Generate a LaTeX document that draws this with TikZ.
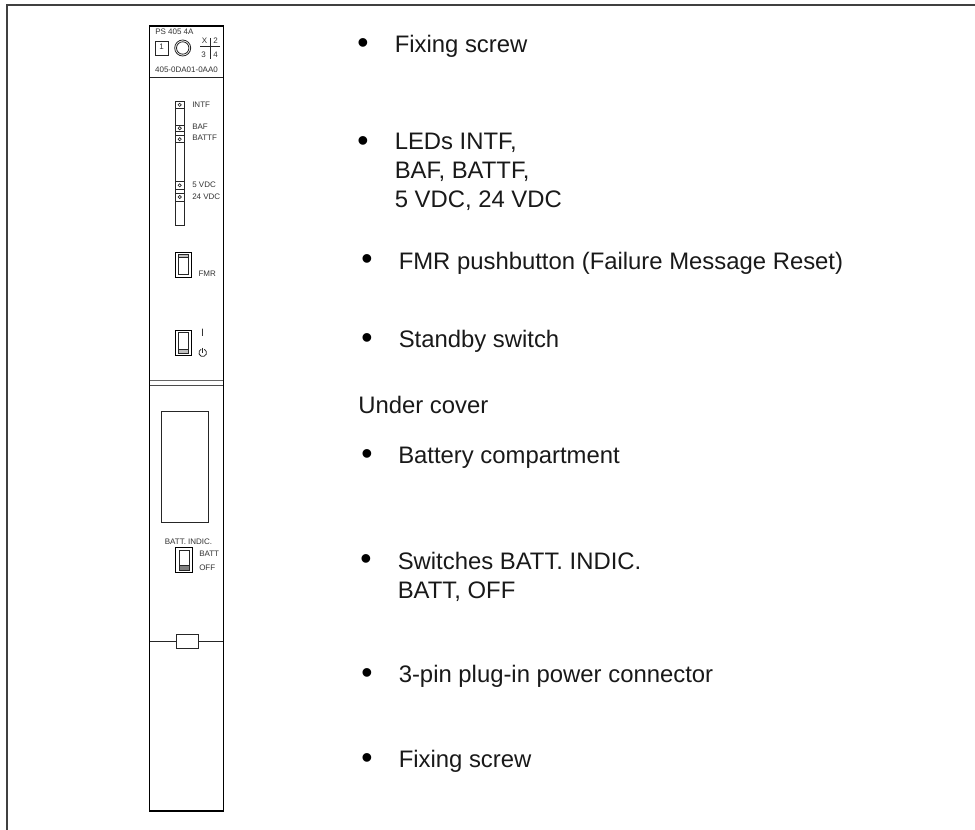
\documentclass[tikz,border=0pt]{standalone}
\usepackage{fontspec}
\setmainfont{Liberation Sans}
\usetikzlibrary{calc}

\tikzset{
  itemtext/.style={anchor=base west, inner sep=0pt, text=black!90, font=\fontsize{17.9}{20}\selectfont},
  dotmark/.style={anchor=base, inner sep=0pt, font=\fontsize{24}{26}\selectfont},
  tinytext/.style={anchor=base west, inner sep=0pt, text=black!80, font=\fontsize{6}{7}\selectfont},
  partline/.style={black!85, line width=0.6pt},
  frameline/.style={black!75, line width=0.9pt}
}

\begin{document}
\begin{tikzpicture}[x=0.75pt, y=-0.75pt]

\useasboundingbox (0,0) rectangle (975,830);

%-- page frame
\coordinate (Fa) at (7, 830);
\coordinate (Fb) at (7, 5);
\coordinate (Fc) at (975, 5);
\draw[frameline] (Fa)--(Fb)--(Fc);

%-- module outline
\draw[black, line width=0.8pt] (149.5,26) rectangle (223.3,811);
\draw[partline] (149.5,77) -- (223.3,77);

%-- head of the module
\node[tinytext] (typename) at (155,34.5) {PS 405 4A};
\draw[partline] (155,41) rectangle (168,55);
\node[tinytext, anchor=base] (slotno) at (161.5,49.5) {1};
\draw[partline] (182.7,48) circle (8);
\draw[partline] (182.7,48) circle (6.2);
\draw[partline] (210,38) -- (210,59);
\draw[partline] (200,46) -- (220,46);
\node[tinytext, anchor=base] (keyx) at (204.5,43.5) {X};
\node[tinytext, anchor=base] (keytwo) at (215.5,43.5) {2};
\node[tinytext, anchor=base] (keythree) at (203.5,57.7) {3};
\node[tinytext, anchor=base] (keyfour) at (215.5,58) {4};
\node[tinytext, anchor=base] (orderno) at (186.5,72.7) {405-0DA01-0AA0};

%-- LED strip
\draw[partline] (175,101.7) rectangle (184.3,225);
\foreach \ya/\yb in {101.7/108, 125/131.5, 135.7/142.7, 181.7/189, 193/201} {
  \draw[partline] (175,\ya) -- (184.3,\ya);
  \draw[partline] (175,\yb) -- (184.3,\yb);
  \draw[black!85, line width=0.5pt] (179.7,{(\ya+\yb)/2}) circle (1.6);
}
\node[tinytext] (intf)  at (192,107.7) {INTF};
\node[tinytext] (baf)   at (192,130)   {BAF};
\node[tinytext] (battf) at (192,140.7) {BATTF};
\node[tinytext] (vfive) at (192,187.7) {5 VDC};
\node[tinytext] (vtwf)  at (192,200)   {24 VDC};

%-- FMR pushbutton
\draw[black, line width=0.7pt] (175,252) rectangle (191,277.7);
\draw[partline, fill=black!25] (178,254.7) rectangle (188.3,257);
\draw[partline] (178,254.7) rectangle (188.3,274);
\node[tinytext] (fmr) at (198.3,276.7) {FMR};

%-- standby switch
\draw[black, line width=0.7pt] (175,330) rectangle (191,355.7);
\draw[partline, fill=black!25] (178,349) rectangle (188.3,353.3);
\draw[partline] (178,332.3) rectangle (188.3,353.3);
\node[tinytext, anchor=base, font=\fontsize{8}{9}\selectfont] (swon) at (202.7,337) {I};
\draw[partline] (204.3,349.3) arc[start angle=-65, end angle=245, radius=3.8];
\draw[partline] (202.7,347.7) -- (202.7,353);

%-- cover joint
\draw[black!60, line width=1pt] (149.5,380.5) -- (223.3,380.5);
\draw[black!70, line width=0.6pt] (149.5,385.7) -- (223.3,385.7);

%-- battery compartment
\draw[partline] (161,411) rectangle (208.7,522.7);

%-- battery switch
\node[tinytext, anchor=base] (battindic) at (188.5,544) {BATT. INDIC.};
\draw[black, line width=0.7pt] (175.7,547.7) rectangle (192,572.3);
\draw[partline, fill=black!50] (179.3,565) rectangle (189.3,570);
\draw[partline] (179.3,550) rectangle (189.3,570);
\node[tinytext] (batt) at (199,556.7) {BATT};
\node[tinytext] (off)  at (199,570.7) {OFF};

%-- lower cover edge
\draw[partline] (149.5,641) -- (223.3,641);
\draw[partline, fill=white] (176.3,634.3) rectangle (198,648.3);

%-- list of parts
\node[dotmark] (dota) at (363,53.8) {•};
\node[itemtext] (itema) at (394.5,52.7) {Fixing screw};

\node[dotmark] (dotb) at (363,151.8) {•};
\node[itemtext] (itemb) at (394.5,150) {LEDs INTF,};
\node[itemtext] (itemc) at (394.5,179) {BAF, BATTF,};
\node[itemtext] (itemd) at (394.5,208) {5 VDC, 24 VDC};

\node[dotmark] (dote) at (367,269.8) {•};
\node[itemtext] (iteme) at (398.5,270) {FMR pushbutton (Failure Message Reset)};

\node[dotmark] (dotf) at (367,348.8) {•};
\node[itemtext] (itemf) at (398.5,348) {Standby switch};

\node[itemtext] (under) at (358,414) {Under cover};

\node[dotmark] (dotg) at (367,464.8) {•};
\node[itemtext] (itemg) at (398,464) {Battery compartment};

\node[dotmark] (doth) at (366,569.8) {•};
\node[itemtext] (itemh) at (397.5,569) {Switches BATT. INDIC.};
\node[itemtext] (itemi) at (397.5,598) {BATT, OFF};

\node[dotmark] (dotj) at (367,683.5) {•};
\node[itemtext] (itemj) at (398.5,682.7) {3-pin plug-in power connector};

\node[dotmark] (dotk) at (367,768.5) {•};
\node[itemtext] (itemk) at (398.5,767.7) {Fixing screw};

\end{tikzpicture}
\end{document}
